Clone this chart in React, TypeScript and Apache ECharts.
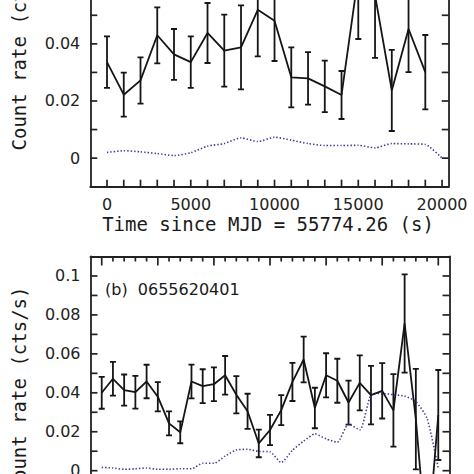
import React, { useEffect, useRef } from "react";
import * as echarts from "echarts";

// ---- Panel (a) data ----
const topTime = [0, 1000, 2000, 3000, 4000, 5000, 6000, 7000, 8000, 9000, 10000, 11000, 12000, 13000, 14000, 15000, 16000, 17000, 18000, 19000];
const topRate = [0.0336, 0.0222, 0.0272, 0.0430, 0.0363, 0.0336, 0.0438, 0.0376, 0.0388, 0.0519, 0.0481, 0.0283, 0.0279, 0.0251, 0.0221, 0.0640, 0.0570, 0.0237, 0.0452, 0.0301];
const topErr = [0.0090, 0.0077, 0.0081, 0.0098, 0.0089, 0.0090, 0.0105, 0.0126, 0.0147, 0.0163, 0.0141, 0.0105, 0.0092, 0.0090, 0.0084, 0.0223, 0.0219, 0.0142, 0.0151, 0.0130];
const topBgTime = [0, 1000, 2000, 3000, 4000, 5000, 6000, 7000, 8000, 9000, 10000, 11000, 12000, 13000, 14000, 15000, 16000, 17000, 18000, 19000, 20000];
const topBg = [0.0020, 0.0026, 0.0022, 0.0016, 0.0009, 0.0019, 0.0042, 0.0051, 0.0071, 0.0058, 0.0073, 0.0063, 0.0051, 0.0044, 0.0044, 0.0045, 0.0036, 0.0051, 0.0050, 0.0048, 0.0000];

// ---- Panel (b) data ----
const botTime = [0, 1000, 2000, 3000, 4000, 5000, 6000, 7000, 8000, 9000, 10000, 11000, 12000, 13000, 14000, 15000, 16000, 17000, 18000, 19000, 20000, 21000, 22000, 23000, 24000, 25000, 26000, 27000, 28000, 29000, 30000];
const botRate = [0.0400, 0.0472, 0.0414, 0.0403, 0.0458, 0.0380, 0.0243, 0.0197, 0.0458, 0.0434, 0.0444, 0.0490, 0.0390, 0.0305, 0.0140, 0.0209, 0.0311, 0.0456, 0.0571, 0.0322, 0.0490, 0.0462, 0.0350, 0.0451, 0.0388, 0.0410, 0.0310, 0.0756, 0.0265, -0.0410, 0.0286];
const botErr = [0.0082, 0.0087, 0.0080, 0.0084, 0.0086, 0.0075, 0.0062, 0.0056, 0.0087, 0.0087, 0.0087, 0.0099, 0.0096, 0.0090, 0.0071, 0.0078, 0.0077, 0.0098, 0.0117, 0.0104, 0.0113, 0.0113, 0.0113, 0.0141, 0.0150, 0.0142, 0.0186, 0.0252, 0.0258, 0.0300, 0.0231];
const botBg = [0.0017, 0.0014, 0.0007, 0.0010, 0.0014, 0.0007, 0.0007, 0.0010, 0.0010, 0.0038, 0.0038, 0.0075, 0.0106, 0.0110, 0.0099, 0.0097, 0.0042, 0.0105, 0.0152, 0.0189, 0.0163, 0.0146, 0.0240, 0.0209, 0.0389, 0.0397, 0.0390, 0.0383, 0.0355, 0.0269, 0.0012];

// ---- Axis ranges and tick marks ----
const topXRange = [-1000, 20400];
const topYRange = [-0.01, 0.09];
const botXRange = [-1000, 31000];
const botYRange = [-0.03, 0.11];
const topXTicks = [0, 1000, 2000, 3000, 4000, 5000, 6000, 7000, 8000, 9000, 10000, 11000, 12000, 13000, 14000, 15000, 16000, 17000, 18000, 19000, 20000];
const topYTicks = [0, 0.01, 0.02, 0.03, 0.04, 0.05, 0.06, 0.07, 0.08];
const botXTicks = [0, 1000, 2000, 3000, 4000, 5000, 6000, 7000, 8000, 9000, 10000, 11000, 12000, 13000, 14000, 15000, 16000, 17000, 18000, 19000, 20000, 21000, 22000, 23000, 24000, 25000, 26000, 27000, 28000, 29000, 30000];
const botXMajor = [0, 5000, 10000, 15000, 20000, 25000, 30000];
const botYTicks = [-0.02, -0.01, 0, 0.01, 0.02, 0.03, 0.04, 0.05, 0.06, 0.07, 0.08, 0.09, 0.1];

// ---- Texts ----
const xTitleTop = "Time since MJD = 55774.26 (s)";
const yTitle = "Count rate (cts/s)";
const panelLabelB = "(b)  0655620401";

const INK = "#151515";
const FRAME = "#222222";
const BG_COLOR = "#3d3d98";
const OFF = 120; // the picture is a crop of a taller figure

const fmtY = (v: number) => {
  const k = Math.round(v * 100);
  if (k % 2 !== 0) return "";
  return String(parseFloat((k / 100).toFixed(2)));
};
const fmtX = (v: number) => (Math.round(v) % 5000 === 0 && v >= 0 ? String(v) : "");

const errRender = (params: any, api: any) => {
  const x = api.value(0);
  const y = api.value(1);
  const e = api.value(2);
  const p0 = api.coord([x, y - e]);
  const p1 = api.coord([x, y + e]);
  const w = 3;
  return {
    type: "group",
    children: [
      { type: "line", shape: { x1: p0[0], y1: p0[1], x2: p1[0], y2: p1[1] }, style: { stroke: INK, lineWidth: 1.8 } },
      { type: "line", shape: { x1: p0[0] - w, y1: p0[1], x2: p0[0] + w, y2: p0[1] }, style: { stroke: INK, lineWidth: 1.8 } },
      { type: "line", shape: { x1: p1[0] - w, y1: p1[1], x2: p1[0] + w, y2: p1[1] }, style: { stroke: INK, lineWidth: 1.8 } },
    ],
  };
};

// vertical tick marks on the top and bottom frame edges; value(1)/value(2): lengths
const mkXTickRender = (yr: number[]) => (params: any, api: any) => {
  const v = api.value(0);
  const lt = api.value(1);
  const lb = api.value(2);
  const pb = api.coord([v, yr[0]]);
  const pt = api.coord([v, yr[1]]);
  return {
    type: "group",
    children: [
      { type: "line", shape: { x1: pt[0], y1: pt[1], x2: pt[0], y2: pt[1] + lt }, style: { stroke: FRAME, lineWidth: 1.7 } },
      { type: "line", shape: { x1: pb[0], y1: pb[1], x2: pb[0], y2: pb[1] - lb }, style: { stroke: FRAME, lineWidth: 1.7 } },
    ],
  };
};
// horizontal tick marks on the left and right frame edges
const mkYTickRender = (xr: number[]) => (params: any, api: any) => {
  const v = api.value(1);
  const l = api.value(2);
  const pl = api.coord([xr[0], v]);
  const pr = api.coord([xr[1], v]);
  return {
    type: "group",
    children: [
      { type: "line", shape: { x1: pl[0], y1: pl[1], x2: pl[0] + l, y2: pl[1] }, style: { stroke: FRAME, lineWidth: 1.7 } },
      { type: "line", shape: { x1: pr[0], y1: pr[1], x2: pr[0] - l, y2: pr[1] }, style: { stroke: FRAME, lineWidth: 1.7 } },
    ],
  };
};

export default function App() {
  const ref = useRef<HTMLDivElement>(null);
  useEffect(() => {
    if (!ref.current) return;
    const chart = echarts.init(ref.current, undefined, { renderer: "svg" });

    const tickLabel = { color: "#222", fontFamily: "DejaVu Sans", fontSize: 16 };
    const mkAxisLine = () => ({ show: true, onZero: false, lineStyle: { color: FRAME, width: 1.8 } });
    const mkX = (grid: number, r: number[], pos: "top" | "bottom", labels: boolean) => ({
      type: "value",
      gridIndex: grid,
      position: pos,
      min: r[0],
      max: r[1],
      interval: 1000,
      axisLine: mkAxisLine(),
      splitLine: { show: false },
      axisTick: { show: false },
      axisLabel: labels ? { show: true, ...tickLabel, margin: 10, formatter: fmtX } : { show: false },
    });
    const mkY = (grid: number, r: number[], pos: "left" | "right", labels: boolean) => ({
      type: "value",
      gridIndex: grid,
      position: pos,
      min: r[0],
      max: r[1],
      interval: 0.01,
      axisLine: mkAxisLine(),
      splitLine: { show: false },
      axisTick: { show: false },
      axisLabel: labels ? { show: true, ...tickLabel, margin: 10, formatter: fmtY } : { show: false },
    });

    const titleFont = { fontFamily: "DejaVu Sans Mono", fontSize: 19 };
    const txt = (text: string, x: number, y: number, rot: number, extra: any = {}) => ({
      type: "text",
      x,
      y,
      rotation: rot,
      style: { text, ...titleFont, fill: "#1a1a1a", textAlign: "center", textVerticalAlign: "middle", align: "center", verticalAlign: "middle", ...extra },
    });

    chart.setOption({
      animation: false,
      backgroundColor: "#ffffff",
      grid: [
        { left: 90.25, top: -99 + OFF, width: 358.5, height: 285.7, show: false },
        { left: 90.5, top: 256.5 + OFF, width: 359, height: 272.6, show: false },
      ],
      xAxis: [
        mkX(0, topXRange, "bottom", true),
        mkX(0, topXRange, "top", false),
        mkX(1, botXRange, "top", false),
        mkX(1, botXRange, "bottom", true),
      ],
      yAxis: [
        mkY(0, topYRange, "left", true),
        mkY(0, topYRange, "right", false),
        mkY(1, botYRange, "left", true),
        mkY(1, botYRange, "right", false),
      ],
      graphic: [
        txt(xTitleTop, 268, 223.5 + OFF, 0),
        txt(yTitle, 18.5, 47.5 + OFF, Math.PI / 2),
        txt(yTitle, 19, 389.5 + OFF, Math.PI / 2),
        txt(panelLabelB, 105, 289 + OFF, 0, { fontFamily: "DejaVu Sans", fontSize: 16, textAlign: "left", align: "left" }),
      ],
      series: [
        {
          type: "custom",
          xAxisIndex: 0,
          yAxisIndex: 0,
          clip: false,
          silent: true,
          z: 5,
          renderItem: mkXTickRender(topYRange),
          data: topXTicks.map((t) => [t, 7, 7]),
        },
        {
          type: "custom",
          xAxisIndex: 0,
          yAxisIndex: 0,
          clip: false,
          silent: true,
          z: 5,
          renderItem: mkYTickRender(topXRange),
          data: topYTicks.map((v) => [0, v, 7]),
        },
        {
          type: "custom",
          xAxisIndex: 2,
          yAxisIndex: 2,
          clip: false,
          silent: true,
          z: 5,
          renderItem: mkXTickRender(botYRange),
          data: botXTicks.map((t) => [t, botXMajor.includes(t) ? 9 : 5, botXMajor.includes(t) ? 9 : 5]),
        },
        {
          type: "custom",
          xAxisIndex: 2,
          yAxisIndex: 2,
          clip: false,
          silent: true,
          z: 5,
          renderItem: mkYTickRender(botXRange),
          data: botYTicks.map((v) => [0, v, 7]),
        },
        {
          type: "line",
          xAxisIndex: 0,
          yAxisIndex: 0,
          data: topBgTime.map((t, i) => [t, topBg[i]]),
          showSymbol: false,
          smooth: 0.2,
          lineStyle: { color: BG_COLOR, width: 1.6, type: [1.4, 2] },
        },
        {
          type: "line",
          xAxisIndex: 0,
          yAxisIndex: 0,
          data: topTime.map((t, i) => [t, topRate[i]]),
          showSymbol: false,
          lineStyle: { color: INK, width: 1.8 },
        },
        {
          type: "custom",
          xAxisIndex: 0,
          yAxisIndex: 0,
          clip: true,
          renderItem: errRender,
          data: topTime.map((t, i) => [t, topRate[i], topErr[i]]),
        },
        {
          type: "line",
          xAxisIndex: 2,
          yAxisIndex: 2,
          data: botTime.map((t, i) => [t, botBg[i]]),
          showSymbol: false,
          smooth: 0.2,
          lineStyle: { color: BG_COLOR, width: 1.6, type: [1.4, 2] },
        },
        {
          type: "line",
          xAxisIndex: 2,
          yAxisIndex: 2,
          data: botTime.map((t, i) => [t, botRate[i]]),
          showSymbol: false,
          lineStyle: { color: INK, width: 1.8 },
        },
        {
          type: "custom",
          xAxisIndex: 2,
          yAxisIndex: 2,
          clip: true,
          renderItem: errRender,
          data: botTime.map((t, i) => [t, botRate[i], botErr[i]]),
        },
      ],
    });
    return () => chart.dispose();
  }, []);

  return (
    <div style={{ position: "fixed", left: 0, top: 0, width: 474, height: 474, background: "#fff", overflow: "hidden" }}>
      <div ref={ref} style={{ position: "absolute", left: 0, top: -OFF, width: 474, height: 474 + 2 * OFF }} />
    </div>
  );
}
